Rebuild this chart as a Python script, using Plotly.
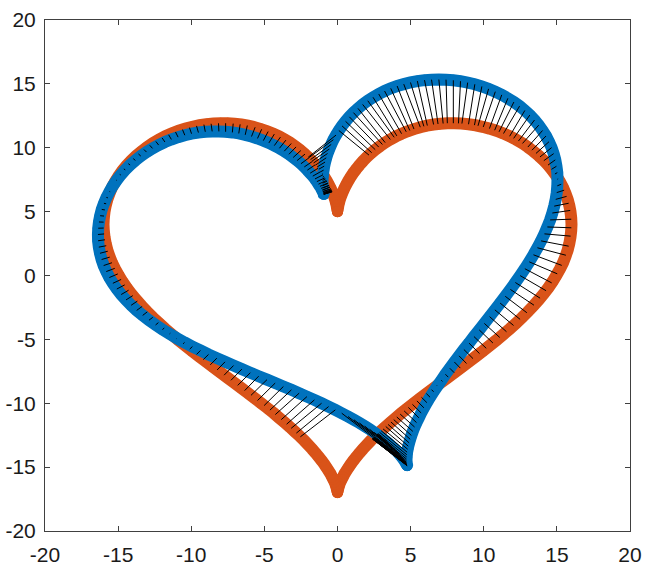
import numpy as np
import plotly.graph_objects as go

# ---------------- data ----------------
# Orange heart (fixed shape)
orange_x = [0.00, 0.00, 0.00, 0.01, 0.02, 0.04, 0.06, 0.10, 0.14, 0.20, 0.28, 0.37, 0.47, 0.60, 0.74, 0.90,
            1.08, 1.28, 1.50, 1.74, 2.00, 2.28, 2.58, 2.91, 3.25, 3.61, 3.99, 4.38, 4.79, 5.22, 5.66, 6.11,
            6.57, 7.04, 7.51, 7.99, 8.47, 8.96, 9.44, 9.92, 10.39, 10.86, 11.32, 11.77, 12.20, 12.62, 13.02,
            13.40, 13.76, 14.10, 14.42, 14.71, 14.97, 15.21, 15.42, 15.59, 15.74, 15.85, 15.93, 15.98, 16.00,
            15.98, 15.93, 15.85, 15.74, 15.59, 15.42, 15.21, 14.97, 14.71, 14.42, 14.10, 13.76, 13.40, 13.02,
            12.62, 12.20, 11.77, 11.32, 10.86, 10.39, 9.92, 9.44, 8.96, 8.47, 7.99, 7.51, 7.04, 6.57, 6.11,
            5.66, 5.22, 4.79, 4.38, 3.99, 3.61, 3.25, 2.91, 2.58, 2.28, 2.00, 1.74, 1.50, 1.28, 1.08, 0.90,
            0.74, 0.60, 0.47, 0.37, 0.28, 0.20, 0.14, 0.10, 0.06, 0.04, 0.02, 0.01, 0.00, 0.00, 0.00,
            -0.00, -0.00, -0.01, -0.02, -0.04, -0.06, -0.10, -0.14, -0.20, -0.28, -0.37, -0.47, -0.60, -0.74,
            -0.90, -1.08, -1.28, -1.50, -1.74, -2.00, -2.28, -2.58, -2.91, -3.25, -3.61, -3.99, -4.38, -4.79,
            -5.22, -5.66, -6.11, -6.57, -7.04, -7.51, -7.99, -8.47, -8.96, -9.44, -9.92, -10.39, -10.86,
            -11.32, -11.77, -12.20, -12.62, -13.02, -13.40, -13.76, -14.10, -14.42, -14.71, -14.97, -15.21,
            -15.42, -15.59, -15.74, -15.85, -15.93, -15.98, -16.00, -15.98, -15.93, -15.85, -15.74, -15.59,
            -15.42, -15.21, -14.97, -14.71, -14.42, -14.10, -13.76, -13.40, -13.02, -12.62, -12.20, -11.77,
            -11.32, -10.86, -10.39, -9.92, -9.44, -8.96, -8.47, -7.99, -7.51, -7.04, -6.57, -6.11, -5.66,
            -5.22, -4.79, -4.38, -3.99, -3.61, -3.25, -2.91, -2.58, -2.28, -2.00, -1.74, -1.50, -1.28, -1.08,
            -0.90, -0.74, -0.60, -0.47, -0.37, -0.28, -0.20, -0.14, -0.10, -0.06, -0.04, -0.02, -0.01, -0.00,
            -0.00, 0.00]
orange_y = [5.00, 5.01, 5.06, 5.13, 5.22, 5.35, 5.49, 5.67, 5.86, 6.08, 6.31, 6.57, 6.83, 7.12, 7.41, 7.71,
            8.02, 8.33, 8.64, 8.95, 9.26, 9.56, 9.85, 10.13, 10.40, 10.65, 10.89, 11.10, 11.29, 11.46, 11.61,
            11.73, 11.82, 11.88, 11.92, 11.92, 11.90, 11.84, 11.76, 11.64, 11.50, 11.33, 11.13, 10.90, 10.64,
            10.36, 10.05, 9.72, 9.37, 9.00, 8.61, 8.20, 7.78, 7.34, 6.89, 6.43, 5.95, 5.47, 4.99, 4.50, 4.00,
            3.50, 3.00, 2.50, 2.00, 1.50, 1.00, 0.51, 0.02, -0.47, -0.95, -1.43, -1.90, -2.37, -2.83, -3.29,
            -3.74, -4.19, -4.63, -5.07, -5.50, -5.93, -6.35, -6.77, -7.19, -7.60, -8.01, -8.41, -8.82, -9.21,
            -9.61, -10.00, -10.38, -10.76, -11.14, -11.51, -11.87, -12.23, -12.58, -12.92, -13.26, -13.58,
            -13.90, -14.21, -14.50, -14.78, -15.05, -15.30, -15.54, -15.77, -15.97, -16.16, -16.33, -16.49,
            -16.62, -16.74, -16.83, -16.90, -16.96, -16.99, -17.00,
            -16.99, -16.96, -16.90, -16.83, -16.74, -16.62, -16.49, -16.33, -16.16, -15.97, -15.77, -15.54,
            -15.30, -15.05, -14.78, -14.50, -14.21, -13.90, -13.58, -13.26, -12.92, -12.58, -12.23, -11.87,
            -11.51, -11.14, -10.76, -10.38, -10.00, -9.61, -9.21, -8.82, -8.41, -8.01, -7.60, -7.19, -6.77,
            -6.35, -5.93, -5.50, -5.07, -4.63, -4.19, -3.74, -3.29, -2.83, -2.37, -1.90, -1.43, -0.95, -0.47,
            0.02, 0.51, 1.00, 1.50, 2.00, 2.50, 3.00, 3.50, 4.00, 4.50, 4.99, 5.47, 5.95, 6.43, 6.89, 7.34,
            7.78, 8.20, 8.61, 9.00, 9.37, 9.72, 10.05, 10.36, 10.64, 10.90, 11.13, 11.33, 11.50, 11.64, 11.76,
            11.84, 11.90, 11.92, 11.92, 11.88, 11.82, 11.73, 11.61, 11.46, 11.29, 11.10, 10.89, 10.65, 10.40,
            10.13, 9.85, 9.56, 9.26, 8.95, 8.64, 8.33, 8.02, 7.71, 7.41, 7.12, 6.83, 6.57, 6.31, 6.08, 5.86,
            5.67, 5.49, 5.35, 5.22, 5.13, 5.06, 5.01, 5.00]

# Blue heart (moved and tilted copy)
blue_x = [-0.93, -0.94, -0.95, -0.96, -0.98, -0.99, -1.00, -1.01, -1.02, -1.02, -1.01, -0.99, -0.95, -0.91,
          -0.85, -0.77, -0.68, -0.56, -0.43, -0.28, -0.10, 0.09, 0.31, 0.55, 0.81, 1.09, 1.40, 1.72, 2.07,
          2.43, 2.82, 3.22, 3.64, 4.08, 4.53, 4.99, 5.46, 5.95, 6.43, 6.93, 7.42, 7.92, 8.41, 8.90, 9.39,
          9.87, 10.33, 10.79, 11.23, 11.65, 12.06, 12.45, 12.81, 13.15, 13.47, 13.76, 14.02, 14.26, 14.46,
          14.64, 14.78, 14.89, 14.97, 15.03, 15.04, 15.03, 14.99, 14.92, 14.82, 14.69, 14.54, 14.35, 14.15,
          13.92, 13.67, 13.40, 13.11, 12.81, 12.49, 12.16, 11.82, 11.47, 11.12, 10.76, 10.40, 10.04, 9.69,
          9.33, 8.99, 8.64, 8.31, 7.99, 7.68, 7.38, 7.10, 6.83, 6.57, 6.33, 6.11, 5.91, 5.72, 5.56, 5.40,
          5.27, 5.15, 5.05, 4.97, 4.90, 4.84, 4.80, 4.76, 4.74, 4.73, 4.72, 4.72, 4.73, 4.73, 4.74, 4.75,
          4.76, 4.76,
          4.76, 4.75, 4.73, 4.70, 4.66, 4.60, 4.53, 4.45, 4.35, 4.23, 4.09, 3.93, 3.75, 3.54, 3.32, 3.07,
          2.80, 2.51, 2.20, 1.86, 1.50, 1.12, 0.72, 0.29, -0.15, -0.61, -1.09, -1.58, -2.09, -2.62, -3.15,
          -3.70, -4.26, -4.82, -5.39, -5.96, -6.54, -7.11, -7.69, -8.25, -8.82, -9.37, -9.92, -10.46,
          -10.98, -11.48, -11.97, -12.44, -12.89, -13.32, -13.73, -14.11, -14.46, -14.79, -15.09, -15.36,
          -15.60, -15.81, -15.99, -16.13, -16.24, -16.32, -16.37, -16.38, -16.36, -16.31, -16.23, -16.12,
          -15.97, -15.80, -15.59, -15.36, -15.10, -14.82, -14.51, -14.18, -13.82, -13.45, -13.06, -12.65,
          -12.23, -11.80, -11.36, -10.90, -10.44, -9.98, -9.51, -9.04, -8.57, -8.11, -7.65, -7.19, -6.75,
          -6.31, -5.88, -5.47, -5.07, -4.69, -4.32, -3.97, -3.64, -3.32, -3.03, -2.76, -2.50, -2.27, -2.06,
          -1.87, -1.69, -1.54, -1.41, -1.30, -1.20, -1.12, -1.06, -1.01, -0.97, -0.95, -0.94, -0.93]
blue_y = [6.36, 6.37, 6.42, 6.48, 6.58, 6.70, 6.85, 7.03, 7.23, 7.45, 7.70, 7.97, 8.25, 8.56, 8.88, 9.21,
          9.55, 9.90, 10.26, 10.63, 10.99, 11.35, 11.71, 12.07, 12.42, 12.75, 13.08, 13.39, 13.68, 13.95,
          14.21, 14.44, 14.65, 14.83, 14.98, 15.11, 15.22, 15.29, 15.33, 15.34, 15.33, 15.28, 15.21, 15.10,
          14.97, 14.80, 14.61, 14.39, 14.14, 13.87, 13.58, 13.26, 12.92, 12.56, 12.17, 11.77, 11.35, 10.92,
          10.47, 10.01, 9.54, 9.05, 8.55, 8.05, 7.54, 7.02, 6.49, 5.96, 5.43, 4.89, 4.35, 3.80, 3.26, 2.71,
          2.17, 1.62, 1.07, 0.53, -0.01, -0.55, -1.09, -1.63, -2.16, -2.69, -3.22, -3.75, -4.26, -4.78,
          -5.29, -5.79, -6.29, -6.77, -7.26, -7.73, -8.20, -8.65, -9.10, -9.53, -9.95, -10.36, -10.76,
          -11.14, -11.51, -11.86, -12.20, -12.52, -12.82, -13.10, -13.36, -13.60, -13.83, -14.03, -14.21,
          -14.37, -14.51, -14.63, -14.72, -14.80, -14.85, -14.88, -14.89,
          -14.88, -14.85, -14.80, -14.73, -14.65, -14.54, -14.42, -14.29, -14.14, -13.97, -13.79, -13.61,
          -13.41, -13.20, -12.98, -12.75, -12.52, -12.28, -12.04, -11.79, -11.54, -11.29, -11.04, -10.78,
          -10.52, -10.26, -10.00, -9.74, -9.48, -9.21, -8.95, -8.69, -8.42, -8.15, -7.88, -7.61, -7.33,
          -7.05, -6.76, -6.47, -6.18, -5.87, -5.56, -5.24, -4.91, -4.57, -4.23, -3.87, -3.50, -3.12, -2.73,
          -2.33, -1.91, -1.49, -1.06, -0.61, -0.16, 0.31, 0.78, 1.25, 1.74, 2.22, 2.72, 3.21, 3.70, 4.19,
          4.68, 5.17, 5.65, 6.11, 6.57, 7.02, 7.45, 7.87, 8.27, 8.65, 9.01, 9.35, 9.66, 9.95, 10.21, 10.45,
          10.65, 10.83, 10.98, 11.10, 11.19, 11.25, 11.28, 11.28, 11.25, 11.20, 11.12, 11.01, 10.88, 10.73,
          10.56, 10.38, 10.17, 9.96, 9.73, 9.49, 9.24, 9.00, 8.75, 8.50, 8.25, 8.01, 7.78, 7.56, 7.35, 7.15,
          6.98, 6.82, 6.68, 6.57, 6.48, 6.41, 6.37, 6.36]

tick_vals = [-20, -15, -10, -5, 0, 5, 10, 15, 20]
tick_text = ["-20", "-15", "-10", "-5", "0", "5", "10", "15", "20"]

ORANGE = "#D95319"
BLUE = "#0072BD"

n = min(len(orange_x), len(orange_y))
m = min(len(blue_x), len(blue_y))

# Each blue point is joined to the closest point of the orange curve
ox = np.array(orange_x[:n]); oy = np.array(orange_y[:n])
ax0, ay0 = ox[:-1], oy[:-1]
dx, dy = ox[1:] - ax0, oy[1:] - ay0
seg_len2 = np.where(dx * dx + dy * dy == 0, 1e-12, dx * dx + dy * dy)
seg_x, seg_y = [], []
for bx, by in zip(blue_x[:m], blue_y[:m]):
    u = np.clip(((bx - ax0) * dx + (by - ay0) * dy) / seg_len2, 0, 1)
    px, py = ax0 + u * dx, ay0 + u * dy
    k = int(np.argmin((px - bx) ** 2 + (py - by) ** 2))
    seg_x += [bx, float(px[k]), None]
    seg_y += [by, float(py[k]), None]

fig = go.Figure()
fig.add_trace(go.Scatter(x=orange_x[:n], y=orange_y[:n], mode="lines+markers",
                         line=dict(color=ORANGE, width=12, simplify=False),
                         marker=dict(color=ORANGE, size=11, line=dict(width=0)),
                         hoverinfo="skip", showlegend=False))
fig.add_trace(go.Scatter(x=blue_x[:m], y=blue_y[:m], mode="lines+markers",
                         line=dict(color=BLUE, width=12, simplify=False),
                         marker=dict(color=BLUE, size=11, line=dict(width=0)),
                         hoverinfo="skip", showlegend=False))
fig.add_trace(go.Scatter(x=seg_x, y=seg_y, mode="lines",
                         line=dict(color="black", width=1, simplify=False),
                         hoverinfo="skip", showlegend=False))

axis_common = dict(range=[-20, 20], tickvals=tick_vals, ticktext=tick_text,
                   ticks="inside", ticklen=5, tickwidth=1, tickcolor="#404040",
                   showline=True, linecolor="#404040", linewidth=1, mirror="ticks",
                   showgrid=False, zeroline=False, automargin=False,
                   tickfont=dict(family="Liberation Sans, Arial, sans-serif", size=21, color="#1a1a1a"))

fig.update_layout(
    width=657, height=567,
    margin=dict(l=45, r=27, t=20, b=36),
    paper_bgcolor="white", plot_bgcolor="white",
    xaxis=dict(**axis_common, ticklabelstandoff=5),
    yaxis=dict(**axis_common, ticklabelstandoff=4),
)

fig.write_html("out.html", config={"displayModeBar": False},
               post_script="document.body.style.margin='0';document.body.style.overflow='hidden';")
